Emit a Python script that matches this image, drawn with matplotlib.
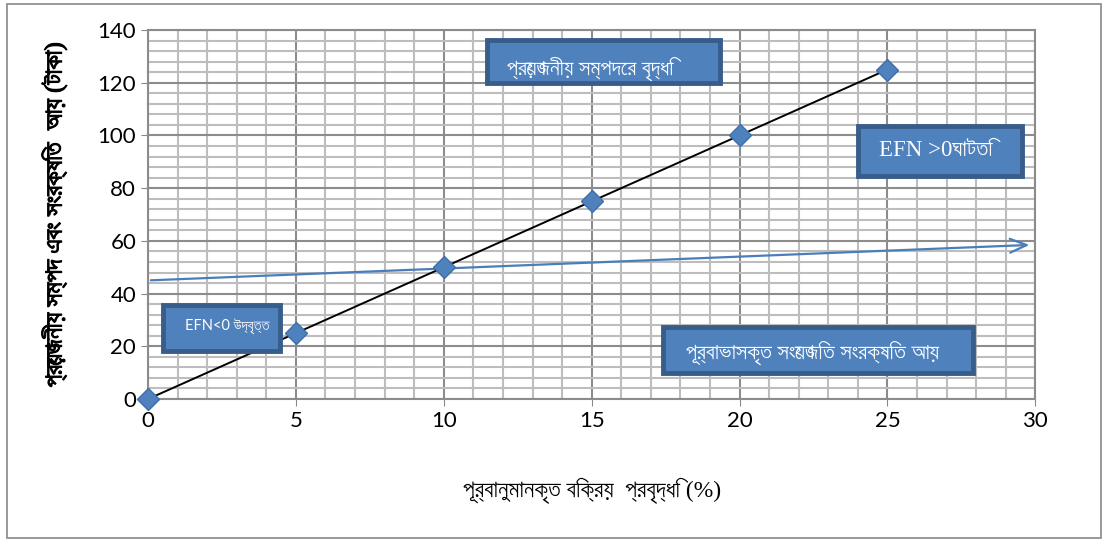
import matplotlib
matplotlib.use("Agg")
import matplotlib.pyplot as plt
import matplotlib.patheffects as pe
from matplotlib import font_manager
from matplotlib.patches import Rectangle
from matplotlib.ticker import MultipleLocator

# data
growth = [0, 5, 10, 15, 20, 25]
required_assets = [0, 25, 50, 75, 100, 125]
retained_x = [0, 29.9]
retained_y = [45, 58.5]

x_label = "পূর্বানুমানকৃত বিক্রয়  প্রবৃদ্ধি (%)"
y_label = "প্রয়োজনীয় সম্পদ এবং সংরক্ষিত  আয় (টাকা)"
box_texts = ["প্রয়োজনীয় সম্পদের বৃদ্ধি", "EFN >0ঘাটতি", "EFN<0 উদ্বৃত্ত",
             "পূর্বাভাসকৃত সংযোজিত সংরক্ষিত আয়"]

# pick a font that has Bengali glyphs if one is installed
names = sorted({f.name for f in font_manager.fontManager.ttflist})
beng = [n for n in names if "Bengali" in n or n in ("Lohit Bengali", "Vrinda", "Nirmala UI", "FreeSans")]
SERIF = ["Liberation Serif"] + beng[:1] + ["DejaVu Sans"]
SANS = ["Lato"] + beng[:1] + ["DejaVu Sans"]

fig = plt.figure(figsize=(11.09, 5.42), dpi=100)
ax = fig.add_axes([0.1335, 0.2638, 0.80, 0.6808])

ax.plot(growth, required_assets, color="black", lw=1.4, zorder=3)
ax.plot(growth, required_assets, ls="none", marker="D", ms=11, color="#4F81BD",
        mec="#3F6FA8", zorder=4, clip_on=False)
ax.annotate("", xy=(retained_x[1], retained_y[1]), xytext=(retained_x[0], retained_y[0]),
            arrowprops=dict(arrowstyle="->,head_length=1.2,head_width=0.5", color="#4A7EBB", lw=1.6),
            zorder=3)

ax.set_xlim(0, 30)
ax.set_ylim(0, 140)
ax.xaxis.set_major_locator(MultipleLocator(5))
ax.xaxis.set_minor_locator(MultipleLocator(1))
ax.yaxis.set_major_locator(MultipleLocator(20))
ax.yaxis.set_minor_locator(MultipleLocator(4))
ax.grid(which="minor", color="#BDBDBD", lw=1.5)
ax.grid(which="major", color="#8C8C8C", lw=1.5)
ax.set_axisbelow(True)
ax.tick_params(which="minor", length=0)
ax.tick_params(which="major", length=5, color="#888888", labelsize=16)
for lab in ax.get_xticklabels() + ax.get_yticklabels():
    lab.set_family(SANS)
for s in ax.spines.values():
    s.set_color("#8C8C8C")
    s.set_linewidth(1.5)

ax.set_xlabel(x_label, family=SERIF, fontsize=17, labelpad=34)
ax.set_ylabel(y_label, family=SERIF, fontsize=18, labelpad=22,
              path_effects=[pe.withStroke(linewidth=0.8, foreground="black")])

# callout boxes (figure fractions: x0, y0, w, h, text x, text y, fontsize, family)
boxes = [
    (0.439, 0.847, 0.210, 0.079, 0.457, 0.873, 16, SERIF),
    (0.774, 0.675, 0.148, 0.092, 0.793, 0.723, 16.5, SERIF),
    (0.147, 0.352, 0.1055, 0.085, 0.167, 0.397, 10.5, SANS),
    (0.598, 0.312, 0.279, 0.085, 0.619, 0.349, 16, SERIF),
]
for (x0, y0, w, h, tx, ty, fs, fam), txt in zip(boxes, box_texts):
    fig.patches.append(Rectangle((x0, y0), w, h, transform=fig.transFigure,
                                 facecolor="#4F81BD", edgecolor="#385D8A", lw=3.5, zorder=5))
    fig.text(tx, ty, txt, color="white", fontsize=fs, family=fam, va="center", zorder=6)

fig.patches.append(Rectangle((0.006, 0.008), 0.987, 0.985, transform=fig.transFigure,
                             fill=False, edgecolor="#888888", lw=1.2))

fig.savefig("out.png", dpi=100)
